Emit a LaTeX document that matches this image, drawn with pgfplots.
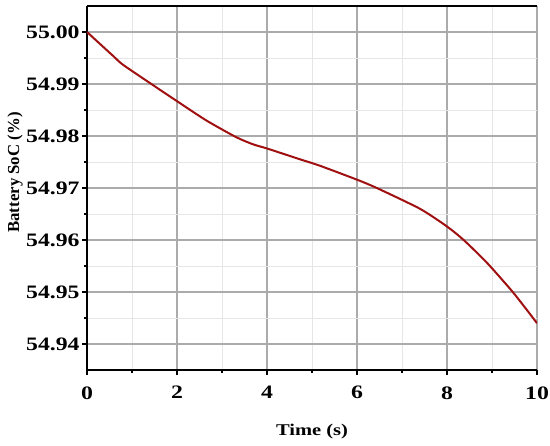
\documentclass[border=0pt]{standalone}
\usepackage{fontspec}
\setmainfont{Liberation Serif}[FakeStretch=1.25]
\newfontfamily\ylabfont{Liberation Serif}
\usepackage{pgfplots}
\pgfplotsset{compat=1.18}
\definecolor{curve}{HTML}{A01010}
\definecolor{majgrid}{HTML}{ABABAB}
\definecolor{mingrid}{HTML}{E6E6E6}
\begin{document}
\begin{tikzpicture}
\begin{axis}[
  scale only axis,
  width=225pt, height=182pt,
  xmin=0, xmax=10, ymin=54.935, ymax=55.005,
  axis x line*=box, axis y line*=left,
  axis line style={black, line width=0.8pt},
  xtick={0,2,4,6,8,10},
  ytick={54.94,54.95,54.96,54.97,54.98,54.99,55.00},
  minor x tick num=1, minor y tick num=1,
  xtick pos=bottom, ytick pos=left,
  tick align=outside,
  major tick length=2.5pt, minor tick length=1.5pt,
  tick style={black, line width=0.6pt},
  grid=both,
  major grid style={majgrid, line width=0.6pt},
  minor grid style={mingrid, line width=0.4pt},
  scaled y ticks=false,
  /pgf/number format/assume math mode=true,
  ticklabel style={font=\bfseries\fontsize{9.5}{11}\selectfont},
  yticklabel style={inner sep=1pt, /pgf/number format/fixed, /pgf/number format/fixed zerofill, /pgf/number format/precision=2},
  xticklabel style={inner sep=2pt, yshift=-3.5pt},
  xlabel={\bfseries\fontsize{8.2}{10}\selectfont Time (s)},
  xlabel style={at={(rel axis cs:0.5,-0.1703)}, anchor=center},
  ylabel={\ylabfont\bfseries\fontsize{8.4}{10}\selectfont Battery SoC (\%)},
  ylabel style={at={(rel axis cs:-0.16,0.5426)}, anchor=center},
]
\addplot[curve, line width=1pt, smooth, tension=0.4] coordinates {
(0,55.000) (0.58,54.9954) (0.8,54.9937) (1.43,54.990) (2,54.9867)
(2.65,54.983) (3.31,54.9798) (3.69,54.9784) (4,54.9776) (4.74,54.9755)
(5.17,54.9743) (6,54.9716) (6.44,54.970) (7.4,54.966) (8,54.9626)
(8.37,54.960) (8.89,54.9556) (9.48,54.9498) (10,54.944)
};
\coordinate (o) at (rel axis cs:0,0);
\end{axis}
\pgfresetboundingbox
\path (o) ++(-43.5pt,-37.5pt) rectangle ++(275pt,222.5pt);
\end{tikzpicture}
\end{document}
